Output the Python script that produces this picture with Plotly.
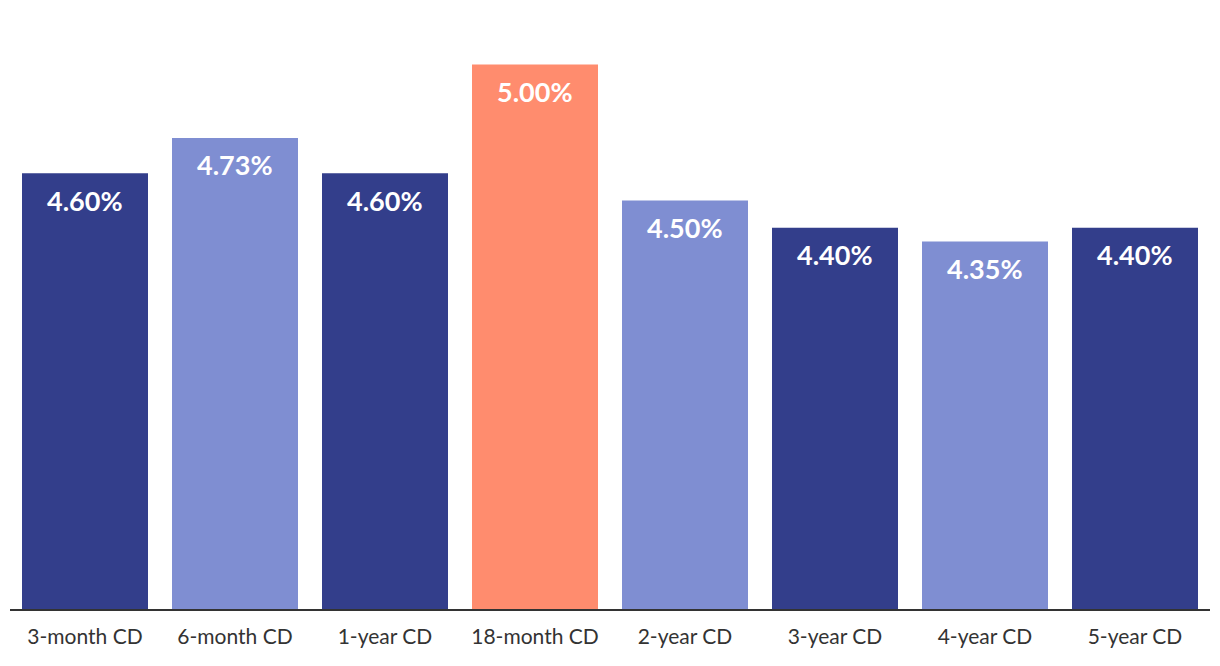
import plotly.graph_objects as go

categories = ["3-month CD", "6-month CD", "1-year CD", "18-month CD", "2-year CD",
              "3-year CD", "4-year CD", "5-year CD"]
rates = [4.60, 4.73, 4.60, 5.00, 4.50, 4.40, 4.35, 4.40]
labels = ["4.60%", "4.73%", "4.60%", "5.00%", "4.50%", "4.40%", "4.35%", "4.40%"]
colors = ["#333E8B", "#7F8ED2", "#333E8B", "#FF8C6E", "#7F8ED2", "#333E8B", "#7F8ED2", "#333E8B"]

FONT = "Source Sans Pro, Lato, Noto Sans, sans-serif"

fig = go.Figure(go.Bar(
    x=categories, y=rates, marker_color=colors, marker_line_width=0,
    hoverinfo="skip",
))

for c, v, t in zip(categories, rates, labels):
    fig.add_annotation(x=c, y=v, text=t, showarrow=False, yanchor="middle",
                       yshift=-27, font=dict(family=FONT, size=27, color="white", weight="bold"))

fig.update_layout(
    width=1220, height=666,
    margin=dict(l=10, r=10, t=10, b=57),
    paper_bgcolor="white", plot_bgcolor="white",
    bargap=0.16, showlegend=False,
    font=dict(family=FONT, size=21, color="#333333"),
)
fig.update_xaxes(showline=True, linecolor="#333333", linewidth=2, ticks="",
                 tickfont=dict(size=21, color="#333333"), showgrid=False,
                 ticklabelstandoff=8, automargin=False)
fig.update_yaxes(range=[3, 5.2], visible=False, showgrid=False, zeroline=False)

fig.write_html("out.html", config={"displayModeBar": False},
               post_script="document.body.style.margin='0';")
